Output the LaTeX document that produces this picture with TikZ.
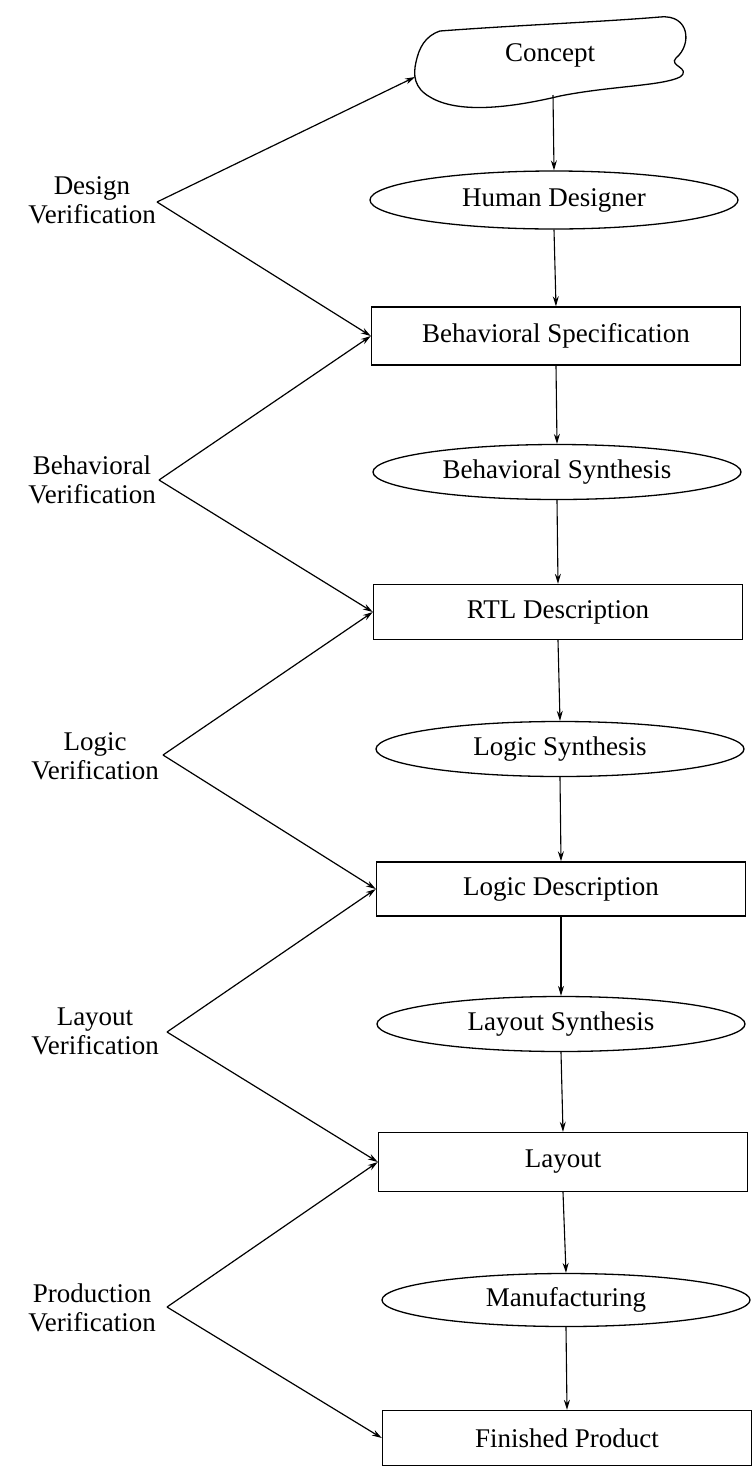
\documentclass[tikz,border=0pt]{standalone}
\usepackage{fontspec}
\setmainfont{Liberation Serif}
\usetikzlibrary{arrows.meta,shapes.geometric}
\begin{document}
\begin{tikzpicture}[x=1pt,y=-1pt,
  every node/.style={font=\fontsize{27}{29}\selectfont},
  boxnode/.style={draw,line width=1.4pt,rectangle,minimum width=369pt,minimum height=56pt,inner sep=0pt},
  ellnode/.style={draw,line width=1.3pt,ellipse,minimum width=368pt,minimum height=55pt,inner sep=0pt},
  lbl/.style={align=center,inner sep=0pt},
  conn/.style={line width=1.2pt,-{Stealth[length=10pt,width=6pt]}},
  flow/.style={line width=1.1pt,-{Stealth[length=10pt,width=6pt]}}]
\useasboundingbox (0,0) rectangle (755,1468);
% cloud
\draw[line width=1.3pt] (440,31) .. controls (520,25) and (600,22) .. (660,17)
  .. controls (690,14) and (692,45) .. (676,58)
  .. controls (668,66) and (692,68) .. (680,77)
  .. controls (662,86) and (610,86) .. (560,96)
  .. controls (510,108) and (458,114) .. (430,97)
  .. controls (414,88) and (413,75) .. (416,62)
  .. controls (419,48) and (425,36) .. (440,31) -- cycle;
\node[inner sep=0pt] (concept) at (550,55) {Concept};
\coordinate (conceptS) at (553,95);
\coordinate (conceptW) at (415,77);
% main column
\node[ellnode,minimum height=58pt] (hd) at (554,200) {Human Designer};
\node[boxnode,minimum height=58pt] (bs) at (556,336) {Behavioral Specification};
\node[ellnode] (bsy) at (557,472) {Behavioral Synthesis};
\node[boxnode,minimum height=55pt] (rtl) at (558,612) {RTL Description};
\node[ellnode] (ls) at (560,749) {Logic Synthesis};
\node[boxnode,minimum height=54pt] (ld) at (561,889) {Logic Description};
\node[ellnode] (lys) at (561,1024) {Layout Synthesis};
\node[boxnode,minimum height=59pt] (lay) at (563,1162) {Layout};
\node[ellnode,minimum height=53pt] (man) at (566,1300) {Manufacturing};
\node[boxnode,minimum height=55pt] (fp) at (567,1438) {Finished Product};
% flow arrows
\draw[flow] (conceptS) -- (hd.north);
\draw[flow] (hd.south) -- (bs.north);
\draw[flow] (bs.south) -- (bsy.north);
\draw[flow] (bsy.south) -- (rtl.north);
\draw[flow] (rtl.south) -- (ls.north);
\draw[flow] (ls.south) -- (ld.north);
\draw[flow] (ld.south) -- (lys.north);
\draw[flow] (lys.south) -- (lay.north);
\draw[flow] (lay.south) -- (man.north);
\draw[flow] (man.south) -- (fp.north);
% verification labels
\node[lbl] (dv) at (92,200) {Design\\Verification};
\node[lbl] (bv) at (92,480) {Behavioral\\Verification};
\node[lbl] (lv) at (95,756) {Logic\\Verification};
\node[lbl] (yv) at (95,1031) {Layout\\Verification};
\node[lbl] (pv) at (92,1308) {Production\\Verification};
\coordinate (dvv) at (157,202);
\coordinate (bvv) at (159,480);
\coordinate (lvv) at (163,755);
\coordinate (yvv) at (167,1032);
\coordinate (pvv) at (167,1307);
\draw[conn] (dvv) -- (conceptW);
\draw[conn] (dvv) -- (bs.west);
\draw[conn] (bvv) -- (bs.west);
\draw[conn] (bvv) -- (rtl.west);
\draw[conn] (lvv) -- (rtl.west);
\draw[conn] (lvv) -- (ld.west);
\draw[conn] (yvv) -- (ld.west);
\draw[conn] (yvv) -- (lay.west);
\draw[conn] (pvv) -- (lay.west);
\draw[conn] (pvv) -- (fp.west);
\end{tikzpicture}
\end{document}
